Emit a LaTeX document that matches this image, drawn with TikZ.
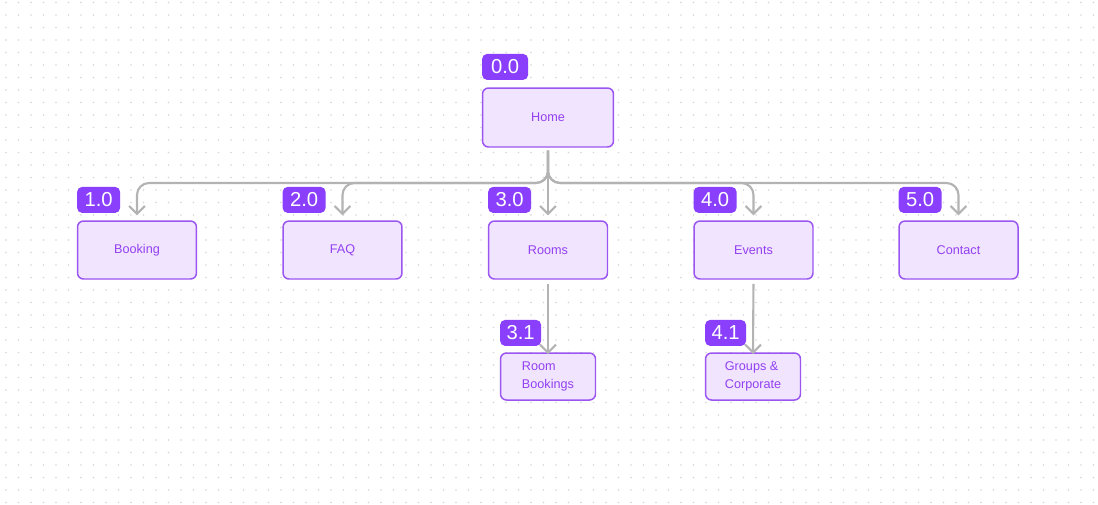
\documentclass[tikz,border=0pt]{standalone}
\usepackage{fontspec}
\setmainfont{Liberation Sans}
\usetikzlibrary{positioning,arrows.meta}

\definecolor{boxfill}{HTML}{F0E4FF}
\definecolor{boxline}{HTML}{9B55F0}
\definecolor{badgefill}{HTML}{8A3FFC}
\definecolor{boxtext}{HTML}{9340F0}
\definecolor{linkgray}{HTML}{B3B3B3}
\definecolor{dotgray}{HTML}{D6D6D6}

\begin{document}
\begin{tikzpicture}[
    x=0.02cm, y=-0.02cm,
    page/.style={rectangle, draw=boxline, fill=boxfill, rounded corners=0.12cm, line width=0.85pt,
        text=boxtext, font=\fontsize{7.2}{10}\selectfont, minimum width=2.38cm, minimum height=1.16cm},
    homepage/.style={page, minimum width=2.62cm, minimum height=1.18cm},
    subpage/.style={page, minimum width=1.9cm, minimum height=0.94cm, align=left},
    badge/.style={rectangle, fill=badgefill, rounded corners=0.1cm, text=white,
        font=\fontsize{11.5}{13}\selectfont, minimum width=0.86cm, minimum height=0.52cm, inner sep=0pt},
    link/.style={draw=linkgray, line width=1.2pt, rounded corners=0.24cm,
        shorten <=1.7pt, -{Straight Barb[length=4.5pt,width=9pt]}},
]
    % Background
    \useasboundingbox (0,0) rectangle (1098,504);
    \fill[white] (0,0) rectangle (1098,504);
    \foreach \i in {0,...,87}
        \foreach \j in {0,...,40}
            \fill[dotgray] (6+12.5*\i,2.5+12.5*\j) circle (0.018cm);

    % Home
    \node[homepage] (home) at (548,117.5) {Home};

    % First level
    \node[page] (booking) at (137,250) {Booking};
    \node[page] (faq) at (342.5,250) {FAQ};
    \node[page] (rooms) at (548,250) {Rooms};
    \node[page] (events) at (753.5,250) {Events};
    \node[page] (contact) at (958.5,250) {Contact};

    % Second level
    \node[subpage] (roombook) at (548,376.5) {Room\\Bookings};
    \node[subpage] (groups) at (753,376.5) {Groups \&\\Corporate};

    % Numbers
    \node[badge, minimum width=0.92cm, above right=0.14cm and 0cm of home.north west] (n00) {0.0};
    \node[badge, above right=0.14cm and 0cm of booking.north west] (n10) {1.0};
    \node[badge, above right=0.14cm and 0cm of faq.north west] (n20) {2.0};
    \node[badge, above right=0.14cm and 0cm of rooms.north west] (n30) {3.0};
    \node[badge, above right=0.14cm and 0cm of events.north west] (n40) {4.0};
    \node[badge, above right=0.14cm and 0cm of contact.north west] (n50) {5.0};
    \node[badge, minimum width=0.82cm, above right=0.12cm and 0cm of roombook.north west] (n31) {3.1};
    \node[badge, minimum width=0.82cm, above right=0.12cm and 0cm of groups.north west] (n41) {4.1};

    % Connections home -> first level
    \coordinate (bus) at (548,183);
    \foreach \c in {booking,faq,events,contact}
        \draw[link, shorten >=2.8pt] (home.south) -- (bus) -| (\c.north);
    \draw[link, shorten >=2.8pt] (home.south) -- (rooms.north);

    % Connections first -> second level
    \draw[link, shorten <=2.3pt, shorten >=-1pt] (rooms.south) -- (roombook.north);
    \draw[link, shorten <=2.3pt, shorten >=-1pt] (events.south) -- (groups.north);
\end{tikzpicture}
\end{document}
